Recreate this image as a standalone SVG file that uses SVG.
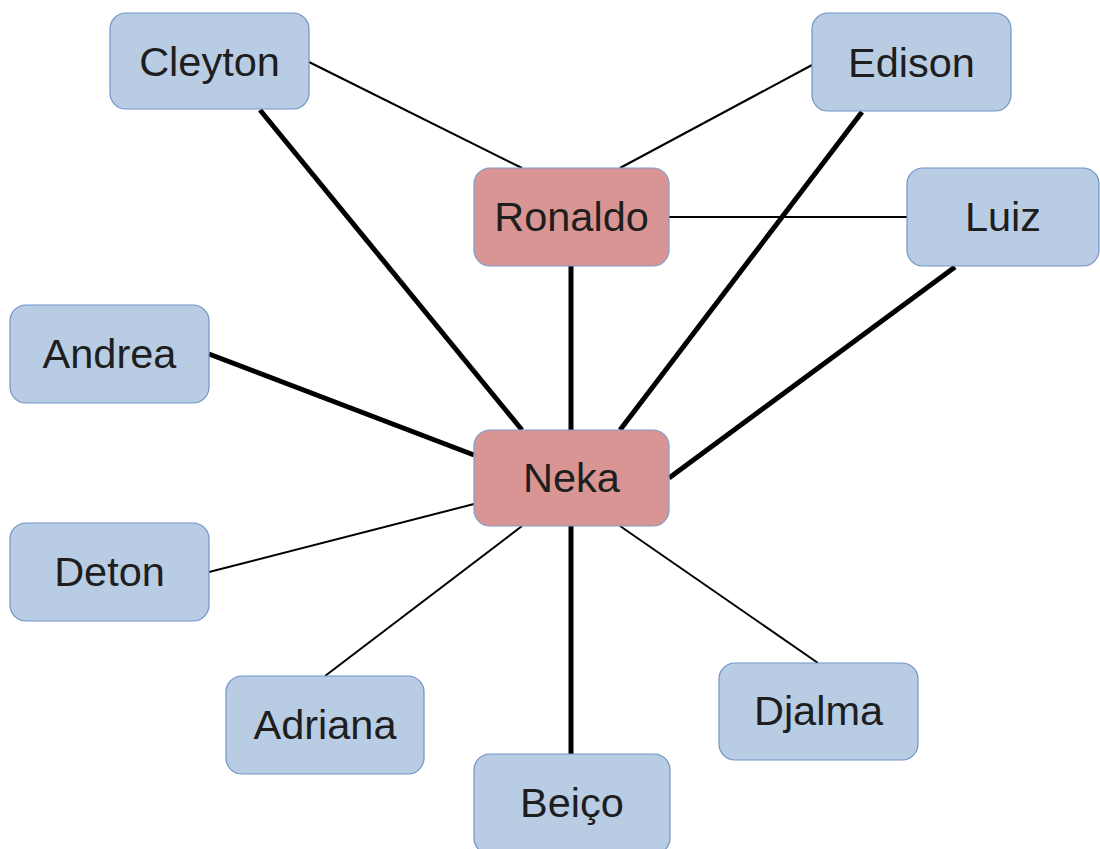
<svg xmlns="http://www.w3.org/2000/svg" width="1100" height="849" viewBox="0 0 1100 849">
<style>
.n rect{fill:#b8cce4;stroke:#6f93c6;stroke-width:1.2}
.r rect{fill:#d99594;stroke:#7f9ccb;stroke-width:1.2}
text{font-family:"Liberation Sans",Arial,sans-serif;font-size:41.5px;fill:#1e1e1e;text-anchor:middle}
.thin{stroke:#000;stroke-width:2;fill:none}
.thick{stroke:#000;stroke-width:5;fill:none}
</style>
<rect width="1100" height="849" fill="#fff"/>
<g id="connectors">
<line class="thin" x1="309" y1="62" x2="522" y2="168"/>
<line class="thin" x1="812" y1="65" x2="620" y2="168"/>
<line class="thin" x1="669" y1="217" x2="907" y2="217"/>
<line class="thick" x1="260" y1="110" x2="522" y2="430"/>
<line class="thick" x1="862" y1="112" x2="620" y2="430"/>
<line class="thick" x1="571" y1="266" x2="571" y2="430"/>
<line class="thick" x1="955" y1="267" x2="669" y2="478"/>
<line class="thick" x1="209" y1="354" x2="474" y2="455"/>
<line class="thin" x1="209" y1="572" x2="474" y2="504"/>
<line class="thin" x1="325" y1="676" x2="522" y2="526"/>
<line class="thick" x1="571" y1="526" x2="571" y2="754"/>
<line class="thin" x1="818" y1="663" x2="620" y2="526"/>
</g>
<g id="cleyton" class="n"><rect x="110" y="13" width="199" height="96" rx="16"/><text x="209.5" y="76">Cleyton</text></g>
<g id="edison" class="n"><rect x="812" y="13" width="199" height="98" rx="16"/><text x="911.5" y="77">Edison</text></g>
<g id="ronaldo" class="r"><rect x="474" y="168" width="195" height="98" rx="16"/><text x="571.5" y="231">Ronaldo</text></g>
<g id="luiz" class="n"><rect x="907" y="168" width="192" height="98" rx="16"/><text x="1003" y="231">Luiz</text></g>
<g id="andrea" class="n"><rect x="10" y="305" width="199" height="98" rx="16"/><text x="109.5" y="368">Andrea</text></g>
<g id="neka" class="r"><rect x="474" y="430" width="195" height="96" rx="16"/><text x="571.5" y="492">Neka</text></g>
<g id="deton" class="n"><rect x="10" y="523" width="199" height="98" rx="16"/><text x="109.5" y="586">Deton</text></g>
<g id="adriana" class="n"><rect x="226" y="676" width="198" height="98" rx="16"/><text x="325" y="739">Adriana</text></g>
<g id="djalma" class="n"><rect x="719" y="663" width="199" height="97" rx="16"/><text x="818.5" y="725">Djalma</text></g>
<g id="beico" class="n"><rect x="474" y="754" width="196" height="100" rx="16"/><text x="572" y="817">Beiço</text></g>
</svg>
